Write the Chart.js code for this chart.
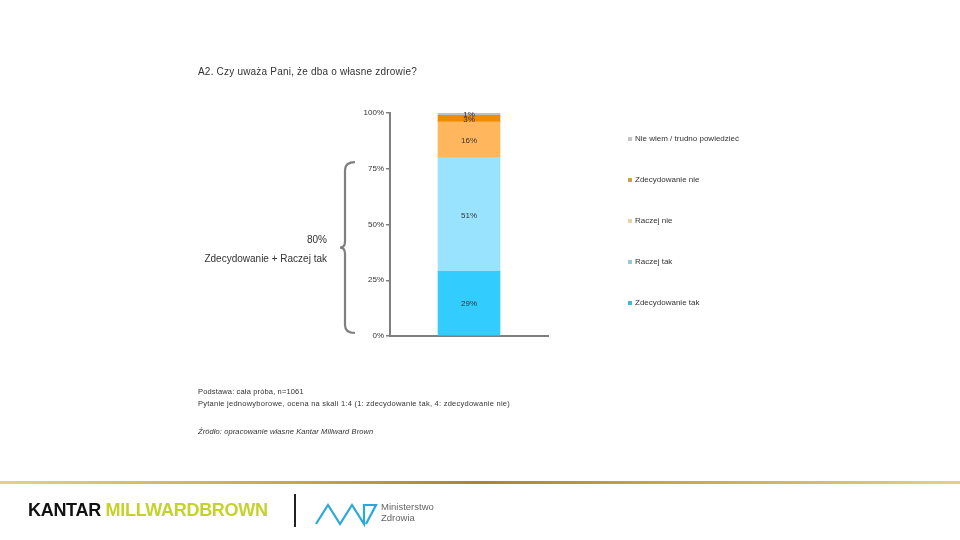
<!DOCTYPE html>
<html>
<head>
<meta charset="utf-8">
<script src="https://cdn.jsdelivr.net/npm/chart.js@4/dist/chart.umd.min.js"></script>
<style>
  html, body { margin:0; padding:0; background:#fff; }
  body { width:960px; height:540px; position:relative; overflow:hidden; font-family:"Liberation Sans", Arial, sans-serif; }
  #wrap { position:absolute; left:0; top:0; width:960px; height:540px; }
  .t { position:absolute; color:#333; white-space:nowrap; }
  #title { left:198px; top:66px; font-size:10px; letter-spacing:0.2px; }
  #n1 { left:198px; top:387px; font-size:7.5px; letter-spacing:0.15px; }
  #n2 { left:198px; top:399px; font-size:7.5px; letter-spacing:0.25px; }
  #n3 { left:198px; top:427px; font-size:7.5px; font-style:italic; letter-spacing:0.1px; }
  #goldline { position:absolute; left:0; top:481px; width:960px; height:3px;
    background:linear-gradient(90deg,#e3d184 0%,#c9a845 30%,#a8862a 50%,#c9a845 70%,#e3d184 100%); }
  #kantar { position:absolute; left:28px; top:500px; font-size:18px; font-weight:bold; letter-spacing:-0.3px; font-family:"Liberation Sans", Arial, sans-serif; }
  #kantar .k { color:#111; }
  #kantar .m { color:#c5d22a; }
  #vline { position:absolute; left:294px; top:494px; width:1.5px; height:33px; background:#222; }
  #mz { position:absolute; left:314px; top:500px; }
  #mzt { position:absolute; left:381px; top:501px; font-size:9.5px; color:#666; line-height:11px; font-family:"Liberation Sans", Arial, sans-serif; }
</style>
</head>
<body>
<div id="wrap"><canvas id="c" width="960" height="540"></canvas></div>
<div class="t" id="title">A2. Czy uważa Pani, że dba o własne zdrowie?</div>
<div class="t" id="n1">Podstawa: cała próba, n=1061</div>
<div class="t" id="n2">Pytanie jednowyborowe, ocena na skali 1:4 (1: zdecydowanie tak, 4: zdecydowanie nie)</div>
<div class="t" id="n3">Źródło: opracowanie własne Kantar Millward Brown</div>
<div id="goldline"></div>
<div id="kantar"><span class="k">KANTAR</span> <span class="m">MILLWARDBROWN</span></div>
<div id="vline"></div>
<svg id="mz" width="66" height="28" viewBox="0 0 66 28">
  <polyline points="2,24 14,5 26,24 38,5 50,24 50,5 62,5 52,24" fill="none" stroke="#2aa8d8" stroke-width="2.2" stroke-linejoin="miter"/>
</svg>
<div id="mzt">Ministerstwo<br>Zdrowia</div>
<script>
// ---- data ----
const categories = ["A2"];
const seriesNames = ["Zdecydowanie tak", "Raczej tak", "Raczej nie", "Zdecydowanie nie", "Nie wiem / trudno powiedzieć"];
const seriesValues = [[29], [51], [16], [3], [1]];
const yTicks = [0, 25, 50, 75, 100];
const braceValue = 80;
const braceLabel = "Zdecydowanie + Raczej tak";

const barColors = ["#33ccff", "#99e3ff", "#ffb65c", "#f08c00", "#c0c0c0"];
const legendColors = ["#46b8d2", "#96c8d8", "#e6d2a6", "#c8a448", "#c4c4c4"];

const datasets = seriesNames.map((n, i) => ({
  label: n,
  data: seriesValues[i],
  backgroundColor: barColors[i],
  legendColor: legendColors[i],
  borderWidth: 0,
  barThickness: 62
}));

const valueLabels = {
  id: 'valueLabels',
  afterDatasetsDraw(chart) {
    const ctx = chart.ctx;
    ctx.save();
    ctx.font = '8px "Liberation Sans", Arial, sans-serif';
    ctx.fillStyle = '#333';
    ctx.textAlign = 'center';
    ctx.textBaseline = 'middle';
    chart.data.datasets.forEach((ds, i) => {
      const meta = chart.getDatasetMeta(i);
      meta.data.forEach((el, j) => {
        const p = el.getProps(['x', 'y', 'base'], true);
        ctx.fillText(ds.data[j] + '%', p.x, (p.y + p.base) / 2 + 1);
      });
    });
    ctx.restore();
  }
};

const sideLegend = {
  id: 'sideLegend',
  afterDraw(chart) {
    const ctx = chart.ctx;
    const ds = chart.data.datasets;
    const x = 628, y0 = 139, step = 41;
    ctx.save();
    ctx.font = '8px "Liberation Sans", Arial, sans-serif';
    ctx.textBaseline = 'middle';
    ctx.textAlign = 'left';
    for (let k = 0; k < ds.length; k++) {
      const d = ds[ds.length - 1 - k];
      const y = y0 + k * step;
      ctx.fillStyle = d.legendColor;
      ctx.fillRect(x, y - 2, 4, 4);
      ctx.fillStyle = '#333';
      ctx.fillText(d.label, x + 7, y);
    }
    ctx.restore();
  }
};

const brace = {
  id: 'brace',
  afterDraw(chart) {
    const ctx = chart.ctx;
    const ys = chart.scales.y;
    const yb = ys.getPixelForValue(0) - 3;
    const yt = ys.getPixelForValue(braceValue - 2);
    const ym = (yt + yb) / 2;
    const xr = 355, xm = 345, xt = 340;
    ctx.save();
    ctx.strokeStyle = '#7f7f7f';
    ctx.lineWidth = 2.2;
    ctx.beginPath();
    ctx.moveTo(xr, yt);
    ctx.quadraticCurveTo(xm, yt, xm, yt + 8);
    ctx.lineTo(xm, ym - 6);
    ctx.quadraticCurveTo(xm, ym, xt, ym);
    ctx.quadraticCurveTo(xm, ym, xm, ym + 6);
    ctx.lineTo(xm, yb - 8);
    ctx.quadraticCurveTo(xm, yb, xr, yb);
    ctx.stroke();
    ctx.fillStyle = '#333';
    ctx.textAlign = 'right';
    ctx.textBaseline = 'middle';
    ctx.font = '10px "Liberation Sans", Arial, sans-serif';
    ctx.fillText(braceValue + '%', 327, ym - 7);
    ctx.fillText(braceLabel, 327, ym + 12);
    ctx.restore();
  }
};

new Chart(document.getElementById('c'), {
  type: 'bar',
  data: { labels: categories, datasets },
  options: {
    responsive: false,
    animation: false,
    layout: { padding: { left: 350, right: 412, top: 113, bottom: 204 } },
    plugins: { legend: { display: false }, tooltip: { enabled: false } },
    scales: {
      x: {
        stacked: true,
        grid: { display: false },
        border: { display: true, color: '#7f7f7f', width: 2 },
        ticks: { display: false },
        afterFit(s) { s.height = 0; }
      },
      y: {
        stacked: true,
        min: 0, max: 100,
        afterBuildTicks(s) { s.ticks = yTicks.map(v => ({ value: v })); },
        afterFit(s) { s.width = 40; },
        grid: { drawOnChartArea: false, tickLength: 4, color: '#7f7f7f', lineWidth: 1.5 },
        border: { display: true, color: '#7f7f7f', width: 2 },
        ticks: {
          padding: 2,
          color: '#333',
          font: { size: 8, family: '"Liberation Sans", Arial, sans-serif' },
          callback: v => v + '%'
        }
      }
    }
  },
  plugins: [valueLabels, sideLegend, brace]
});
</script>
</body>
</html>
